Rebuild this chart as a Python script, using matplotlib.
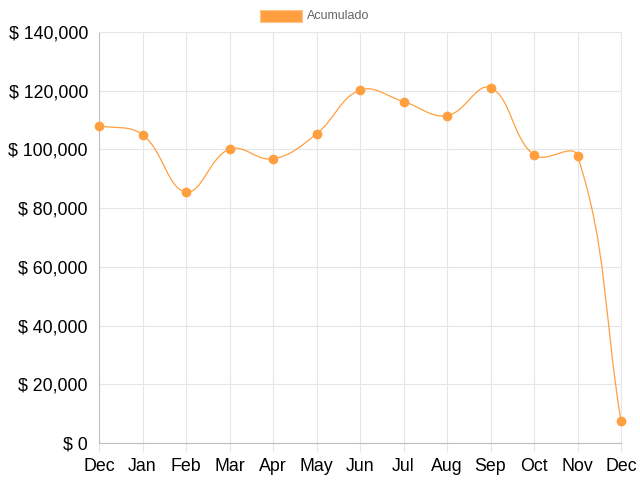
import numpy as np
import matplotlib.pyplot as plt
from matplotlib.path import Path
from matplotlib.patches import PathPatch, Rectangle
from matplotlib.ticker import FuncFormatter

# dados
meses = ['Dec', 'Jan', 'Feb', 'Mar', 'Apr', 'May', 'Jun',
         'Jul', 'Aug', 'Sep', 'Oct', 'Nov', 'Dec']
acumulado = [108100, 105000, 85500, 100100, 96800, 105300, 120200,
             116300, 111500, 121000, 98100, 97800, 7500]

cor = '#FF9F40'
plt.rcParams['font.family'] = ['Liberation Sans', 'DejaVu Sans']

fig = plt.figure(figsize=(6.4, 4.8), dpi=100)
ax = fig.add_axes([99 / 640, 37 / 480, 522 / 640, 411 / 480])

x = np.arange(len(meses))
ax.set_xlim(0, len(meses) - 1)
ax.set_ylim(0, 140000)
ax.set_yticks(np.arange(0, 140001, 20000))
ax.yaxis.set_major_formatter(FuncFormatter(lambda v, p: f'$ {v:,.0f}'))
ax.set_xticks(x)
ax.set_xticklabels(meses)

ax.grid(color='#e6e6e6', lw=0.8)
ax.set_axisbelow(True)
ax.tick_params(axis='x', length=6.5, width=0.8, color='#e6e6e6', labelsize=12.8, pad=4.5)
ax.tick_params(axis='y', length=0, pad=8, labelsize=12.8)
for lado in ['top', 'right']:
    ax.spines[lado].set_color('#e6e6e6')
    ax.spines[lado].set_linewidth(0.8)
for lado in ['left', 'bottom']:
    ax.spines[lado].set_color('#bfbfbf')
    ax.spines[lado].set_linewidth(0.8)

# curva estilo Chart.js (tension 0.4), calculada em pixels
pts = ax.transData.transform(np.column_stack([x, acumulado]))
tension = 0.4
cps = []
for i in range(len(pts)):
    ant = pts[i - 1] if i > 0 else pts[i]
    cur = pts[i]
    prox = pts[i + 1] if i < len(pts) - 1 else pts[i]
    d01 = np.hypot(*(cur - ant))
    d12 = np.hypot(*(prox - cur))
    tot = d01 + d12
    s01 = d01 / tot if tot else 0
    s12 = d12 / tot if tot else 0
    cps.append((cur - tension * s01 * (prox - ant), cur + tension * s12 * (prox - ant)))

verts = [pts[0]]
codes = [Path.MOVETO]
for i in range(len(pts) - 1):
    verts += [cps[i][1], cps[i + 1][0], pts[i + 1]]
    codes += [Path.CURVE4] * 3
verts = ax.transData.inverted().transform(np.array(verts))
ax.add_patch(PathPatch(Path(verts, codes), fill=False, edgecolor=cor, lw=0.9, zorder=2))
ax.plot(x, acumulado, 'o', ms=6, color=cor, zorder=3, clip_on=False)

# legenda
fig.patches.append(Rectangle((260 / 640, 1 - 22 / 480), 42 / 640, 12 / 480,
                             transform=fig.transFigure, facecolor=cor,
                             edgecolor='#ffc48a', lw=0.8))
fig.text(307 / 640, 1 - 16 / 480, 'Acumulado', fontsize=9, color='#666666', va='center')

plt.savefig('out.png', dpi=100)
